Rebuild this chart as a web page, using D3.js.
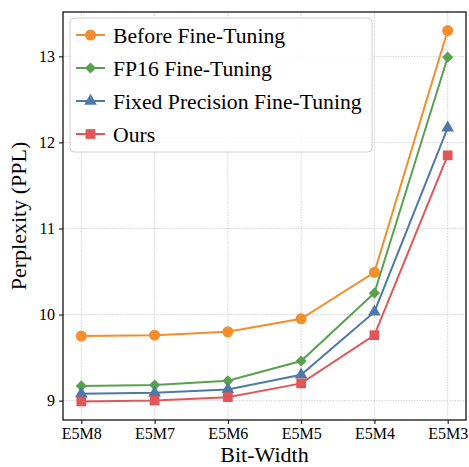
<!DOCTYPE html>
<html>
<head>
<meta charset="utf-8">
<script src="https://cdn.jsdelivr.net/npm/d3@7"></script>
<style>
  body { margin: 0; background: #fff; }
  svg text { font-family: "Liberation Serif", "Times New Roman", serif; fill: #000; }
</style>
</head>
<body>
<svg id="chart" width="469" height="467"></svg>
<script>
// data
var bitWidths = ["E5M8", "E5M7", "E5M6", "E5M5", "E5M4", "E5M3"];
var beforeFT  = [9.75, 9.76, 9.80, 9.95, 10.49, 13.30];
var fp16FT    = [9.17, 9.18, 9.23, 9.46, 10.25, 12.99];
var fixedFT   = [9.08, 9.09, 9.13, 9.30, 10.03, 12.17];
var ours      = [8.99, 9.00, 9.04, 9.20, 9.76, 11.85];
var yTicks    = [9, 10, 11, 12, 13];

var series = [
	{name: "Before Fine-Tuning",            values: beforeFT, color: "#f28e2b", marker: d3.symbolCircle,   size: 95},
	{name: "FP16 Fine-Tuning",              values: fp16FT,   color: "#59a14f", marker: d3.symbolDiamond2, size: 80},
	{name: "Fixed Precision Fine-Tuning",   values: fixedFT,  color: "#4e79a7", marker: d3.symbolTriangle, size: 70},
	{name: "Ours",                          values: ours,     color: "#e15759", marker: d3.symbolSquare,   size: 95}
];

var	svg	= d3.select("#chart"),
	margin	= {left: 63, right: 3, top: 12, bottom: 47},
	width	= 469 - margin.left - margin.right,
	height	= 467 - margin.top - margin.bottom,
	g	= svg.append("g").attr("transform", "translate(" + margin.left + "," + margin.top + ")");

// matplotlib style 5% margins
var	allVals	= d3.merge(series.map(function(s) { return s.values; })),
	yExt	= d3.extent(allVals),
	yPad	= (yExt[1] - yExt[0]) * 0.05,
	xPad	= (bitWidths.length - 1) * 0.05;

var x = d3.scaleLinear().domain([-xPad, bitWidths.length - 1 + xPad]).range([0, width]);
var y = d3.scaleLinear().domain([yExt[0] - yPad, yExt[1] + yPad]).range([height, 0]);

// grid
g.append("g").selectAll("line").data(d3.range(bitWidths.length)).enter().append("line")
	.attr("x1", function(d) { return x(d); }).attr("x2", function(d) { return x(d); })
	.attr("y1", 0).attr("y2", height)
	.attr("stroke", "#c8c8c8").attr("stroke-width", 0.8).attr("stroke-dasharray", "1.5,1.2");
g.append("g").selectAll("line").data(yTicks).enter().append("line")
	.attr("y1", function(d) { return y(d); }).attr("y2", function(d) { return y(d); })
	.attr("x1", 0).attr("x2", width)
	.attr("stroke", "#c8c8c8").attr("stroke-width", 0.8).attr("stroke-dasharray", "1.5,1.2");

// axes
var xAxis = g.append("g").attr("transform", "translate(0," + height + ")")
	.call(d3.axisBottom(x).tickValues(d3.range(bitWidths.length))
		.tickFormat(function(i) { return bitWidths[i]; }).tickSize(4).tickPadding(4));
var yAxis = g.append("g")
	.call(d3.axisLeft(y).tickValues(yTicks).tickFormat(d3.format("d")).tickSize(4).tickPadding(4));
[xAxis, yAxis].forEach(function(a) {
	a.select(".domain").remove();
	a.selectAll(".tick line").attr("stroke", "#000").attr("stroke-width", 1);
	a.selectAll(".tick text").style("font-family", "Liberation Serif").style("font-size", "16px");
});

g.append("rect").attr("width", width).attr("height", height)
	.attr("fill", "none").attr("stroke", "#000").attr("stroke-width", 1.2);

// lines + markers
var line = d3.line().x(function(d, i) { return x(i); }).y(function(d) { return y(d); });
series.forEach(function(s) {
	g.append("path").datum(s.values).attr("d", line)
		.attr("fill", "none").attr("stroke", s.color).attr("stroke-width", 2);
	g.append("g").selectAll("path").data(s.values).enter().append("path")
		.attr("transform", function(d, i) { return "translate(" + x(i) + "," + y(d) + ")"; })
		.attr("d", d3.symbol().type(s.marker).size(s.size))
		.attr("fill", s.color);
});

// axis labels
svg.append("text").attr("x", margin.left + width / 2).attr("y", 462)
	.attr("text-anchor", "middle").style("font-size", "22px").text("Bit-Width");
svg.append("text").attr("transform", "translate(26," + (margin.top + height / 2) + ") rotate(-90)")
	.attr("text-anchor", "middle").style("font-size", "22px").text("Perplexity (PPL)");

// legend
var legend = svg.append("g").attr("transform", "translate(70,18)");
legend.append("rect").attr("width", 302).attr("height", 134).attr("rx", 4)
	.attr("fill", "#fff").attr("fill-opacity", 0.85).attr("stroke", "#d0d0d0").attr("stroke-width", 1);
series.forEach(function(s, i) {
	var item = legend.append("g").attr("transform", "translate(0," + (17 + i * 33) + ")");
	item.append("line").attr("x1", 6).attr("x2", 35).attr("stroke", s.color).attr("stroke-width", 2);
	item.append("path").attr("transform", "translate(20.5,0)")
		.attr("d", d3.symbol().type(s.marker).size(s.size)).attr("fill", s.color);
	item.append("text").attr("x", 43).attr("dy", "0.35em").style("font-size", "21.7px").text(s.name);
});
</script>
</body>
</html>
